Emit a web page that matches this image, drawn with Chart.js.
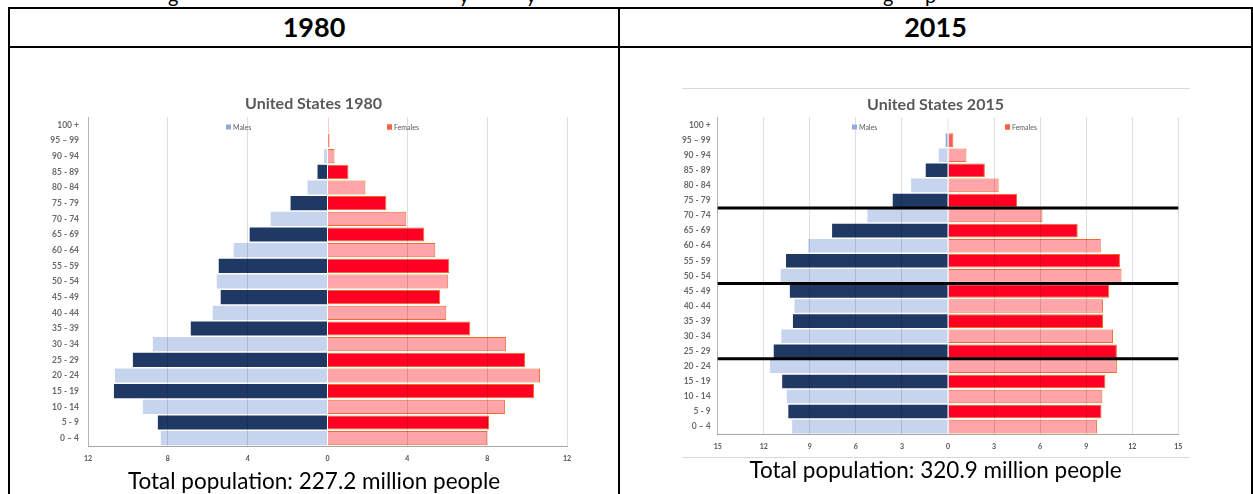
<!DOCTYPE html>
<html><head><meta charset="utf-8">
<script src="https://cdn.jsdelivr.net/npm/chart.js@4/dist/chart.umd.min.js"></script>
<style>
html,body{margin:0;padding:0;background:#fff;}
body{width:1253px;height:494px;overflow:hidden;position:relative;font-family:Lato,"Open Sans",sans-serif;color:#000;}
.hl{position:absolute;background:#000;height:2px;}
.vl{position:absolute;background:#000;width:2px;}
.gl{position:absolute;background:#d9d9d9;height:1px;}
.hdr{position:absolute;font-weight:bold;font-size:27px;line-height:32px;text-align:center;}
.tot{position:absolute;font-size:22.5px;line-height:28px;text-align:center;white-space:nowrap;}
.cut{position:absolute;font-size:20px;line-height:20px;top:-15px;}
canvas{position:absolute;}
</style></head>
<body>
<span class="cut" style="left:168px">g</span>
<span class="cut" style="left:459px">y</span>
<span class="cut" style="left:526px">y</span>
<span class="cut" style="left:883px">g</span>
<span class="cut" style="left:925px">p</span>

<div class="hl" style="left:8px;top:7px;width:1245px"></div>
<div class="hl" style="left:8px;top:46px;width:1245px"></div>
<div class="vl" style="left:8px;top:7px;height:487px"></div>
<div class="vl" style="left:618px;top:7px;height:487px"></div>
<div class="vl" style="left:1251px;top:7px;height:487px"></div>

<div class="hdr" style="left:10px;width:608px;top:11px">1980</div>
<div class="hdr" style="left:620px;width:631px;top:11px">2015</div>

<div class="gl" style="left:682px;top:88px;width:508px"></div>
<div class="gl" style="left:682px;top:457px;width:508px"></div>

<canvas id="c1" width="560" height="390" style="left:40px;top:90px;width:560px;height:390px"></canvas>
<canvas id="c2" width="560" height="380" style="left:660px;top:90px;width:560px;height:380px"></canvas>

<div class="tot" style="left:10px;width:608px;top:467px">Total population: 227.2 million people</div>
<div class="tot" style="left:620px;width:631px;top:456px">Total population: 320.9 million people</div>

<script>
// ---- data (millions of people) ----
const ageGroups = ["100 +","95 \u2013 99","90 - 94","85 - 89","80 - 84","75 - 79","70 - 74","65 - 69","60 - 64","55 - 59","50 - 54","45 - 49","40 - 44","35 - 39","30 - 34","25 - 29","20 - 24","15 - 19","10 - 14","5 - 9","0 \u2013 4"];
const males1980   = [0, 0, 0.17, 0.5, 1.0, 1.85, 2.85, 3.9, 4.7, 5.45, 5.55, 5.35, 5.75, 6.85, 8.75, 9.75, 10.65, 10.7, 9.25, 8.5, 8.35];
const females1980 = [0.06, 0.1, 0.35, 1.05, 1.9, 2.95, 3.95, 4.85, 5.4, 6.1, 6.05, 5.65, 5.95, 7.15, 8.95, 9.9, 10.65, 10.35, 8.9, 8.1, 8.0];
const males2015   = [0.01, 0.15, 0.6, 1.45, 2.4, 3.6, 5.25, 7.55, 9.1, 10.55, 10.9, 10.3, 10.0, 10.1, 10.85, 11.35, 11.6, 10.8, 10.5, 10.4, 10.15];
const females2015 = [0.06, 0.35, 1.2, 2.4, 3.3, 4.5, 6.15, 8.45, 9.95, 11.2, 11.3, 10.5, 10.1, 10.1, 10.75, 11.0, 11.0, 10.25, 10.05, 10.0, 9.7];
const xTicks1980 = [-12, -8, -4, 0, 4, 8, 12];
const xTicks2015 = [-15, -12, -9, -6, -3, 0, 3, 6, 9, 12, 15];
const dividers2015 = ["75 - 79", "50 - 54", "25 - 29"];
const seriesNames = ["Males", "Females"];

// ---- styles ----
const NAVY = '#203864', LBLUE = '#C7D4EE', MBLUE = '#8FAADC';
const RED = '#FF0022', PINK = '#FFA4A9', MRED = '#FF5C5C', ORANGE = '#EC6B2D';
const maleColors = ageGroups.map((_, i) => i === 1 ? MBLUE : (i % 2 === 1 ? NAVY : LBLUE));
const femaleColors = ageGroups.map((_, i) => i === 1 ? MRED : (i % 2 === 1 ? RED : PINK));

const overlay = {
  id: 'overlay',
  afterDraw(chart, args, o) {
    const ctx = chart.ctx;
    ctx.save();
    ctx.font = 'bold 16px Lato, sans-serif';
    ctx.fillStyle = '#595959';
    ctx.textAlign = 'center';
    ctx.textBaseline = 'middle';
    ctx.fillText(o.title, o.titleX, o.titleY);
    ctx.font = '7px Lato, sans-serif';
    ctx.textAlign = 'left';
    o.legend.forEach((lg, k) => {
      ctx.fillStyle = k === 0 ? MBLUE : MRED;
      ctx.fillRect(lg.x, o.legendY - 2.5, 5, 5);
      if (k === 1) { ctx.strokeStyle = ORANGE; ctx.lineWidth = 1; ctx.strokeRect(lg.x + 0.5, o.legendY - 2, 4, 4); }
      ctx.fillStyle = '#595959';
      ctx.fillText(seriesNames[k], lg.x + 7, o.legendY + 0.5);
    });
    if (o.dividers) {
      const y = chart.scales.y, a = chart.chartArea;
      ctx.strokeStyle = '#000'; ctx.lineWidth = 3;
      o.dividers.forEach(lbl => {
        const i = ageGroups.indexOf(lbl);
        const py = (y.getPixelForValue(i) + y.getPixelForValue(i + 1)) / 2;
        ctx.beginPath(); ctx.moveTo(a.left, py); ctx.lineTo(a.right, py); ctx.stroke();
      });
    }
    ctx.restore();
  }
};

function makeChart(id, males, females, xTicks, cfg) {
  return new Chart(document.getElementById(id), {
    type: 'bar',
    data: {
      labels: ageGroups,
      datasets: [
        { label: seriesNames[0], data: males.map(v => -v), backgroundColor: maleColors,
          borderWidth: 0, barPercentage: 0.9, categoryPercentage: 1 },
        { label: seriesNames[1], data: females, backgroundColor: femaleColors,
          borderColor: ORANGE, borderWidth: 1, barPercentage: 0.9, categoryPercentage: 1 }
      ]
    },
    options: {
      indexAxis: 'y',
      responsive: false,
      animation: false,
      layout: { padding: { left: 0, right: cfg.padRight, top: cfg.padTop, bottom: 0 } },
      plugins: { legend: { display: false }, title: { display: false }, tooltip: { enabled: false },
        overlay: cfg.overlay },
      scales: {
        x: {
          stacked: true,
          min: xTicks[0], max: xTicks[xTicks.length - 1],
          afterBuildTicks: s => { s.ticks = xTicks.map(v => ({ value: v })); },
          afterFit: s => { s.height = cfg.xHeight; s.paddingLeft = 0; s.paddingRight = 0; },
          grid: { z: 1, drawTicks: false,
            color: c => (c.tick && c.tick.value === 0) ? 'rgba(0,0,0,0)' : 'rgba(0,0,0,0.13)' },
          border: { display: true, color: '#a6a6a6', z: 1 },
          ticks: { padding: cfg.xPad, color: '#505050', font: { family: 'Lato', size: 7, weight: 'bold' },
            maxRotation: 0, autoSkip: false, callback: v => Math.abs(v) }
        },
        y: {
          stacked: true,
          afterFit: s => { s.width = cfg.yWidth; s.paddingTop = 0; s.paddingBottom = 0; },
          grid: { display: false, drawTicks: false },
          border: { display: true, color: '#d0d0d0' },
          ticks: { padding: cfg.yPad, color: '#6a6a6a', font: { family: 'Lato', size: 8.5, weight: 'bold' }, autoSkip: false }
        }
      }
    },
    plugins: [overlay]
  });
}

makeChart('c1', males1980, females1980, xTicks1980, {
  padRight: 33, padTop: 27, xHeight: 34, yWidth: 48, xPad: 9, yPad: 9,
  overlay: { title: 'United States 1980', titleX: 273.5, titleY: 14, legendY: 37,
    legend: [{ x: 186 }, { x: 347 }] }
});
makeChart('c2', males2015, females2015, xTicks2015, {
  padRight: 41.7, padTop: 27.5, xHeight: 35.8, yWidth: 57.7, xPad: 8, yPad: 7,
  overlay: { title: 'United States 2015', titleX: 275.5, titleY: 15, legendY: 37,
    legend: [{ x: 192 }, { x: 345 }], dividers: dividers2015 }
});
</script>
</body></html>
